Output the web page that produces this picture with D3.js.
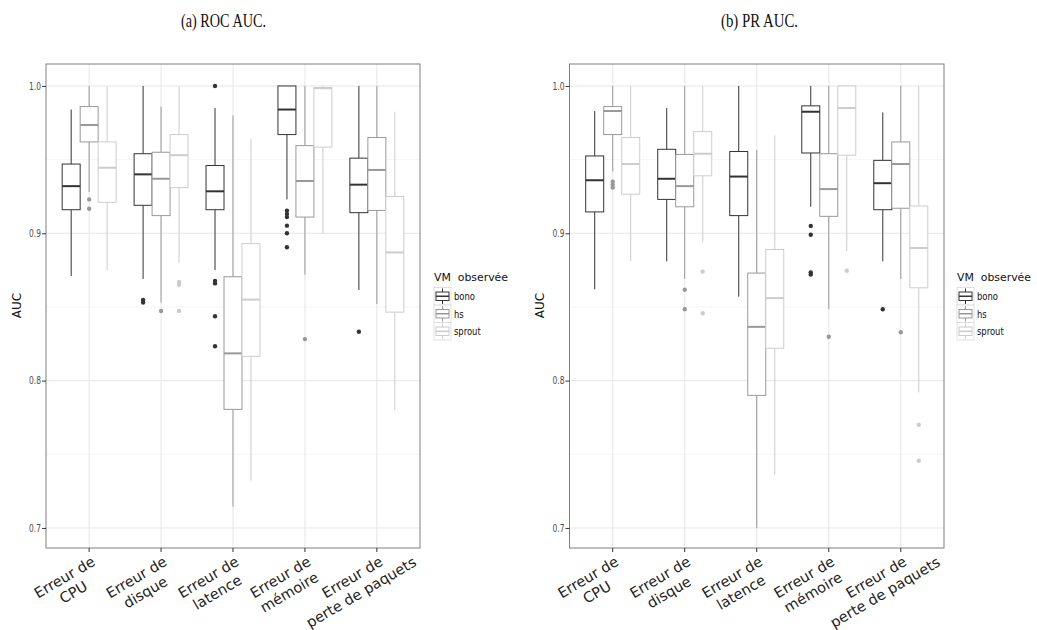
<!DOCTYPE html>
<html><head><meta charset="utf-8">
<script src="https://cdn.jsdelivr.net/npm/d3@7"></script>
<style>body{margin:0;background:#fff} text{font-family:"DejaVu Sans",sans-serif}</style>
</head><body><svg id="c" width="1037" height="630"></svg>
<script>
// ---- data ----
const categories = ["Erreur de\nCPU", "Erreur de\ndisque", "Erreur de\nlatence", "Erreur de\nmémoire", "Erreur de\nperte de paquets"];
const groups = ["bono", "hs", "sprout"];
const groupColors = ["#333333", "#999999", "#cccccc"];
const yTicks = [0.7, 0.8, 0.9, 1.0];
const yMinor = [0.75, 0.85, 0.95];
const panelTitles = ["(a) ROC AUC.", "(b) PR AUC."];
const legendTitle = "VM  observée";

// [lowWhisker, q1, median, q3, highWhisker] per category
const rocBono   = [[0.871,0.916,0.932,0.947,0.984],[0.869,0.919,0.940,0.954,1.000],[0.875,0.916,0.9285,0.946,0.985],[0.923,0.967,0.984,1.000,1.000],[0.8615,0.914,0.933,0.951,1.000]];
const rocHs     = [[0.928,0.962,0.9735,0.986,1.000],[0.853,0.912,0.937,0.955,0.986],[0.7145,0.7805,0.8185,0.8705,0.980],[0.872,0.911,0.9355,0.9595,1.000],[0.852,0.9155,0.943,0.965,1.000]];
const rocSprout = [[0.875,0.921,0.9445,0.962,1.000],[0.880,0.931,0.953,0.967,1.000],[0.732,0.8165,0.855,0.893,0.964],[0.8995,0.9585,0.9985,0.9988,1.000],[0.780,0.8465,0.887,0.925,0.9825]];
const prBono    = [[0.862,0.9145,0.936,0.9525,0.983],[0.881,0.923,0.937,0.957,0.985],[0.857,0.912,0.9385,0.9555,1.000],[0.918,0.9545,0.9825,0.9865,1.000],[0.881,0.916,0.934,0.9495,0.982]];
const prHs      = [[0.942,0.967,0.983,0.986,1.000],[0.869,0.918,0.932,0.9535,1.000],[0.700,0.790,0.8365,0.873,0.9565],[0.8485,0.9115,0.930,0.954,1.000],[0.869,0.917,0.947,0.962,1.000]];
const prSprout  = [[0.881,0.9265,0.947,0.965,1.000],[0.894,0.939,0.954,0.969,1.000],[0.736,0.822,0.856,0.889,0.9665],[0.888,0.953,0.985,1.000,1.000],[0.792,0.863,0.890,0.9185,1.000]];

// outliers: [categoryIndex, groupIndex, value]
const rocOutliers = [[0,1,0.923],[0,1,0.9167],[1,0,0.8547],[1,0,0.853],[1,1,0.8473],[1,2,0.867],[1,2,0.865],[1,2,0.8473],
  [2,0,1.0],[2,0,0.8676],[2,0,0.866],[2,0,0.8437],[2,0,0.8233],
  [3,0,0.9154],[3,0,0.9131],[3,0,0.911],[3,0,0.9052],[3,0,0.900],[3,0,0.8905],[3,1,0.8282],[4,0,0.8332]];
const prOutliers = [[0,1,0.935],[0,1,0.933],[0,1,0.931],[1,1,0.8617],[1,1,0.8484],[1,2,0.874],[1,2,0.8457],
  [3,0,0.905],[3,0,0.899],[3,0,0.8735],[3,0,0.872],[3,1,0.8298],[3,2,0.8746],[4,0,0.8484],[4,1,0.8328],[4,2,0.770],[4,2,0.7456]];

const panels = [
  {title: panelTitles[0], stats: [rocBono, rocHs, rocSprout], outliers: rocOutliers, x0: 46, x1: 420, titleX: 223.5, titleW: 85, legX: 434, ylabX: 20.5},
  {title: panelTitles[1], stats: [prBono, prHs, prSprout], outliers: prOutliers, x0: 569.5, x1: 944, titleX: 759.5, titleW: 77, legX: 957, ylabX: 544}
];

const svg = d3.select("#c");
const yTop = 64, yBot = 548;
const y = d3.scaleLinear().domain([0.6864, 1.0149]).range([yBot, yTop]);

panels.forEach(p => {
  const g = svg.append("g");
  const x = d3.scalePoint().domain(categories).range([p.x0, p.x1]).padding(0.6);
  const step = x.step();
  const bw = step * 0.75 / 3;
  const dodge = d3.scaleBand().domain(groups).range([-step*0.375, step*0.375]);

  // title
  svg.append("text").attr("x", p.titleX).attr("y", 27).attr("text-anchor", "middle")
    .attr("textLength", p.titleW).attr("lengthAdjust", "spacingAndGlyphs")
    .style("font-family", "'Liberation Serif', serif").style("font-size", "19px").attr("fill", "#111")
    .text(p.title);

  // grid
  g.selectAll(".mn").data(yMinor).enter().append("line")
    .attr("x1", p.x0).attr("x2", p.x1).attr("y1", d => y(d)).attr("y2", d => y(d))
    .attr("stroke", "#f5f5f5").attr("stroke-width", 1);
  g.selectAll(".mj").data(yTicks).enter().append("line")
    .attr("x1", p.x0).attr("x2", p.x1).attr("y1", d => y(d)).attr("y2", d => y(d))
    .attr("stroke", "#e6e6e6").attr("stroke-width", 1);
  g.selectAll(".vx").data(categories).enter().append("line")
    .attr("x1", d => x(d)).attr("x2", d => x(d)).attr("y1", yTop).attr("y2", yBot)
    .attr("stroke", "#e6e6e6").attr("stroke-width", 1);

  // boxes
  p.stats.forEach((arr, gi) => {
    const col = groupColors[gi];
    arr.forEach((s, ci) => {
      const cx = x(categories[ci]) + dodge(groups[gi]) + dodge.bandwidth()/2;
      const bg = g.append("g");
      bg.append("line").attr("x1", cx).attr("x2", cx).attr("y1", y(s[4])).attr("y2", y(s[3]))
        .attr("stroke", col).attr("stroke-width", 1);
      bg.append("line").attr("x1", cx).attr("x2", cx).attr("y1", y(s[1])).attr("y2", y(s[0]))
        .attr("stroke", col).attr("stroke-width", 1);
      bg.append("rect").attr("x", cx - bw/2).attr("width", bw)
        .attr("y", y(s[3])).attr("height", y(s[1]) - y(s[3]))
        .attr("fill", "#fff").attr("stroke", col).attr("stroke-width", 1);
      bg.append("line").attr("x1", cx - bw/2).attr("x2", cx + bw/2).attr("y1", y(s[2])).attr("y2", y(s[2]))
        .attr("stroke", col).attr("stroke-width", 2);
    });
  });
  g.selectAll(".out").data(p.outliers).enter().append("circle")
    .attr("cx", d => x(categories[d[0]]) + dodge(groups[d[1]]) + dodge.bandwidth()/2)
    .attr("cy", d => y(d[2])).attr("r", 2.2).attr("fill", d => groupColors[d[1]]);

  // border
  g.append("rect").attr("x", p.x0).attr("y", yTop).attr("width", p.x1 - p.x0).attr("height", yBot - yTop)
    .attr("fill", "none").attr("stroke", "#7f7f7f").attr("stroke-width", 1);

  // y axis
  const ya = g.append("g").attr("transform", `translate(${p.x0},0)`)
    .call(d3.axisLeft(y).tickValues(yTicks).tickFormat(d3.format(".1f")).tickSize(4).tickPadding(2));
  ya.select(".domain").remove();
  ya.selectAll("line").attr("stroke", "#333");
  ya.selectAll("text").attr("x", 0).attr("transform", "translate(-5,0) scale(0.75,1)")
    .style("font-size", "10px").attr("fill", "#4d4d4d").style("font-family", "'DejaVu Sans'");

  // x axis ticks
  g.selectAll(".xt").data(categories).enter().append("line")
    .attr("x1", d => x(d)).attr("x2", d => x(d)).attr("y1", yBot).attr("y2", yBot + 4)
    .attr("stroke", "#333");
  categories.forEach(c => {
    const lines = c.split("\n");
    const t = g.append("g").attr("transform", `translate(${x(c) - 20},${yBot + 37}) rotate(-30.5)`)
      .append("text").attr("text-anchor", "middle").style("font-size", "14.5px").attr("fill", "#222");
    lines.forEach((l, i) => {
      t.append("tspan").attr("x", 0).attr("y", -4 + i * 17.5).text(l);
    });
  });

  // y label
  svg.append("text").attr("transform", `translate(${p.ylabX},305.5) rotate(-90)`)
    .attr("text-anchor", "middle").style("font-size", "12px").attr("fill", "#111").text("AUC");

  // legend
  const lg = svg.append("g").attr("transform", `translate(${p.legX},0)`);
  lg.append("text").attr("x", 0).attr("y", 281).style("font-size", "11px").style("white-space", "pre")
    .attr("textLength", 74).attr("lengthAdjust", "spacingAndGlyphs")
    .attr("fill", "#111").text(legendTitle);
  groups.forEach((gr, i) => {
    const ky = 287.5 + i * 17.5;
    const col = groupColors[i];
    lg.append("rect").attr("x", 0).attr("y", ky).attr("width", 17).attr("height", 17.5)
      .attr("fill", "#fff").attr("stroke", "#d9d9d9").attr("stroke-width", 0.8);
    lg.append("line").attr("x1", 8.5).attr("x2", 8.5).attr("y1", ky + 1).attr("y2", ky + 16.5).attr("stroke", col);
    lg.append("rect").attr("x", 2).attr("y", ky + 4.5).attr("width", 13).attr("height", 8.5)
      .attr("fill", "#fff").attr("stroke", col).attr("stroke-width", 1);
    lg.append("line").attr("x1", 2).attr("x2", 15).attr("y1", ky + 8.75).attr("y2", ky + 8.75)
      .attr("stroke", col).attr("stroke-width", 1.5);
    lg.append("text").attr("x", 0).attr("transform", `translate(20,${ky + 12.5}) scale(0.8,1)`)
      .style("font-size", "10.5px").attr("fill", "#111").text(gr);
  });
});
</script></body></html>
